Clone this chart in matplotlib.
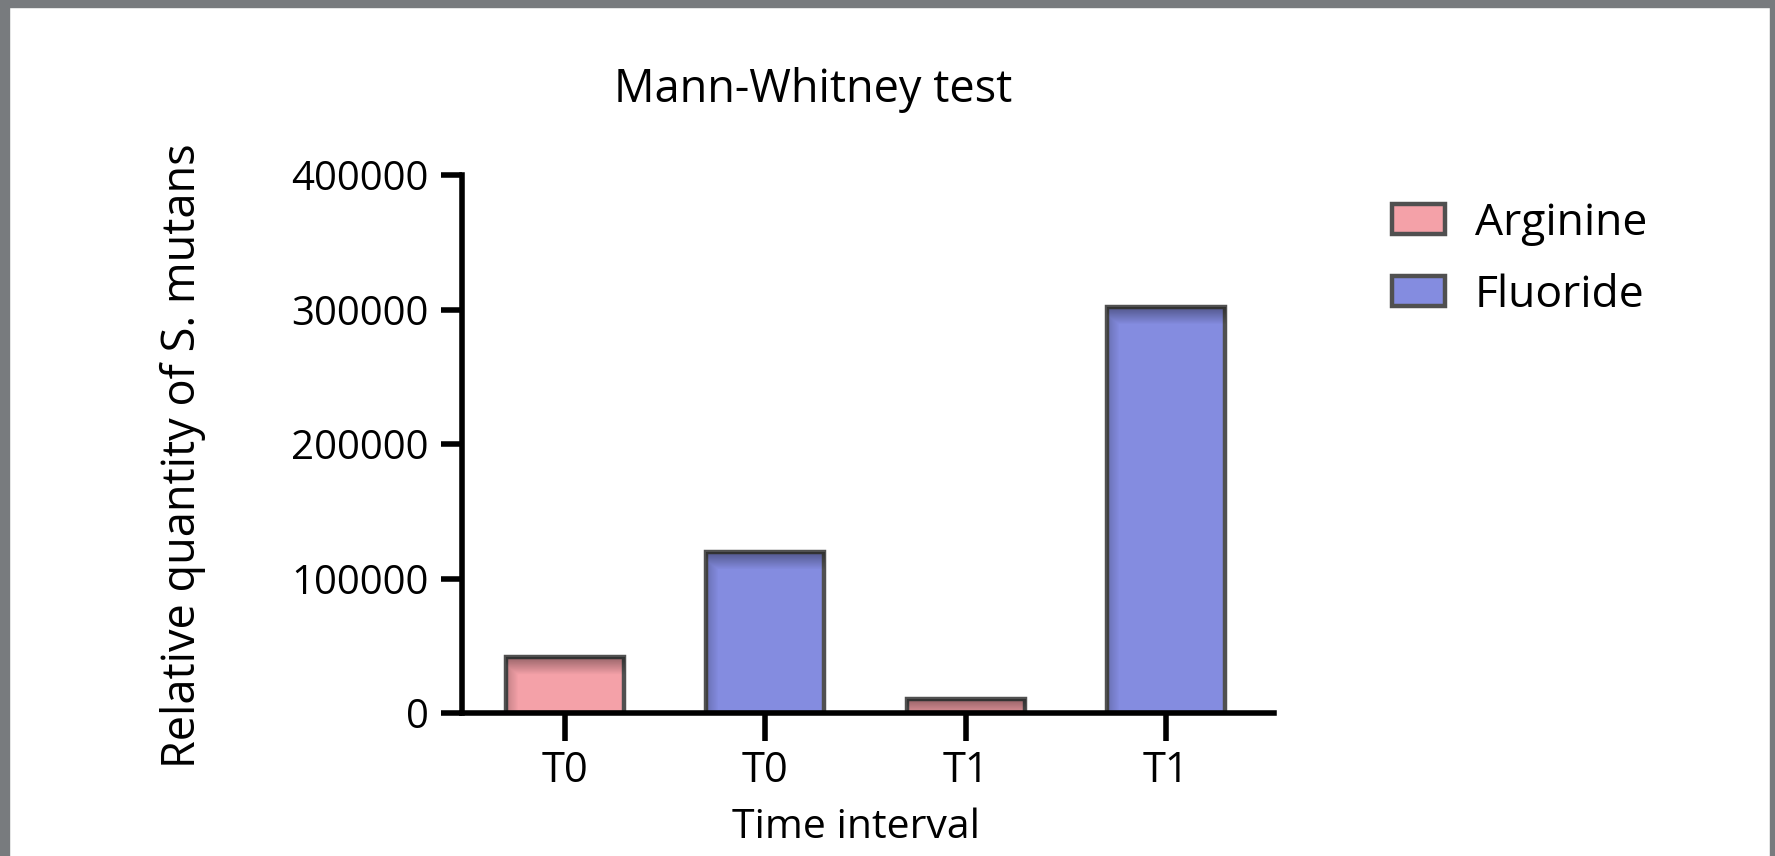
import matplotlib
matplotlib.use("Agg")
import matplotlib.pyplot as plt
from matplotlib.patches import Rectangle, Patch
import numpy as np

plt.rcParams['font.family'] = ['Open Sans', 'DejaVu Sans']

# data
tick_labels = ["T0", "T0", "T1", "T1"]
groups = ["Arginine", "Fluoride", "Arginine", "Fluoride"]
values = [42000, 120000, 10500, 302000]
series_names = ["Arginine", "Fluoride"]
series_colors = {"Arginine": "#f4a1a8", "Fluoride": "#848ce0"}
edge_color = "#505050"

W, H = 1775, 856
fig = plt.figure(figsize=(W / 100, H / 100), dpi=100)

# screenshot frame
frame = "#787b7e"
fig.patches.append(Rectangle((0, 0), 9 / W, 1, transform=fig.transFigure, color=frame, zorder=0))
fig.patches.append(Rectangle((0, 1 - 7 / H), 1, 7 / H, transform=fig.transFigure, color=frame, zorder=0))
fig.patches.append(Rectangle((1 - 5 / W, 0), 5 / W, 1, transform=fig.transFigure, color=frame, zorder=0))

ax = fig.add_axes([462 / W, 143 / H, 812 / W, 538 / H])
x = np.arange(len(values))
bw = 0.59
bars = ax.bar(x, values, width=bw, color=[series_colors[g] for g in groups],
              edgecolor=edge_color, linewidth=3.2, zorder=3)

ax.set_xlim(-0.515, 3.54)
ax.set_ylim(0, 400000)

# inner shading like the original (dark at top and left edge)
px_per_x = 812 / (3.54 + 0.515)
px_per_y = 538 / 400000
for b, xi, v in zip(bars, x, values):
    wpx = int(bw * px_per_x)
    hpx = max(int(v * px_per_y), 2)
    yy = np.arange(hpx)[:, None]
    xx = np.arange(wpx)[None, :]
    a_top = 0.4 * np.clip(1 - yy / 18.0, 0, 1)
    a_left = 0.2 * np.clip(1 - xx / 12.0, 0, 1)
    alpha = np.maximum(a_top, a_left)
    img = np.zeros((hpx, wpx, 4))
    img[..., 3] = alpha
    im = ax.imshow(img, extent=(xi - bw / 2, xi + bw / 2, 0, v), aspect="auto",
                   interpolation="bilinear", zorder=3.5, origin="upper")
    im.set_clip_path(b)
ax.set_xlim(-0.515, 3.54)
ax.set_ylim(0, 400000)

ax.set_yticks([0, 100000, 200000, 300000, 400000])
ax.set_yticklabels(["0", "100000", "200000", "300000", "400000"])
ax.set_xticks(x)
ax.set_xticklabels(tick_labels)

for s in ["top", "right"]:
    ax.spines[s].set_visible(False)
for s in ["left", "bottom"]:
    ax.spines[s].set_linewidth(4)
    ax.spines[s].set_color("black")
    ax.spines[s].set_zorder(4)
ax.tick_params(axis="y", length=15, width=4, labelsize=29, pad=9)
ax.tick_params(axis="x", length=20, width=4, labelsize=30, pad=7)

fig.text(183 / W, 1 - 456 / H, "Relative quantity of S. mutans", fontsize=32.5,
         rotation=90, ha="center", va="center")
fig.text(856 / W, 1 - 828 / H, "Time interval", fontsize=29.5, ha="center", va="center")
fig.text(813 / W, 1 - 90 / H, "Mann-Whitney test", fontsize=32.5, ha="center", va="center")

handles = [Patch(facecolor=series_colors[n], edgecolor=edge_color, linewidth=3.2, label=n)
           for n in series_names]
fig.legend(handles=handles, loc="upper left", bbox_to_anchor=(1392 / W, 1 - 201 / H),
           frameon=False, fontsize=32, handlelength=1.2, handleheight=0.64,
           handletextpad=0.67, labelspacing=0.62, borderaxespad=0, borderpad=0)

fig.savefig("out.png", dpi=100)
